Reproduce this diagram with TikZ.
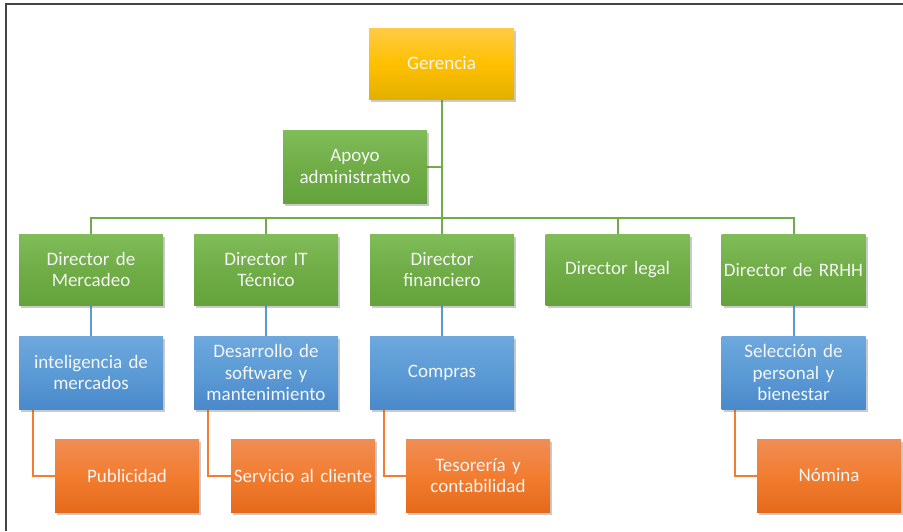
\documentclass[tikz,border=0pt]{standalone}
\usepackage{fontspec}
\setmainfont{Carlito}
\usetikzlibrary{shadows,backgrounds}
\definecolor{ygoldT}{HTML}{FFCB45}
\definecolor{ygoldM}{HTML}{FFC000}
\definecolor{ygoldB}{HTML}{E3B000}
\definecolor{grnT}{HTML}{80BC58}
\definecolor{grnM}{HTML}{70AD47}
\definecolor{grnB}{HTML}{64A33B}
\definecolor{bluT}{HTML}{6EA8DD}
\definecolor{bluM}{HTML}{5B9BD5}
\definecolor{bluB}{HTML}{4A89CA}
\definecolor{orgT}{HTML}{F08D55}
\definecolor{orgM}{HTML}{F27D30}
\definecolor{orgB}{HTML}{E46A1A}
\definecolor{framegray}{HTML}{444444}
\tikzset{
  box/.style={minimum width=144pt, inner sep=1pt, text width=142pt, align=center,
    text=white!96!black, font=\fontsize{19}{21.5}\selectfont,
    drop shadow={shadow xshift=2pt, shadow yshift=-3pt, opacity=0.35, fill=black!60}},
  ybox/.style={box, minimum width=145pt, minimum height=71pt, top color=ygoldT, bottom color=ygoldB, middle color=ygoldM},
  gbox/.style={box, minimum height=71pt, top color=grnT, bottom color=grnB, middle color=grnM},
  bbox/.style={box, minimum height=73pt, top color=bluT, bottom color=bluB, middle color=bluM},
  obox/.style={box, minimum height=73pt, top color=orgT, bottom color=orgB, middle color=orgM},
  gline/.style={draw=grnM, line width=2pt},
  bline/.style={draw=bluM, line width=2pt},
  oline/.style={draw=orgM, line width=2pt},
  framel/.style={draw=framegray, line width=2pt}
}
\begin{document}
\begin{tikzpicture}[x=1pt,y=-1pt]
\useasboundingbox (0,0) rectangle (903,531);
\draw[framel] (6,531) -- (6,4) -- (903,4);

\node[ybox] (ger) at (441.5,63.5) {Gerencia};
\node[gbox, minimum height=73pt] (apo) at (355,166.5) {Apoyo\\administrativo};

\node[gbox] (d1) at (91,269.5) {Director de\\Mercadeo};
\node[gbox] (d2) at (266,269.5) {Director IT\\Técnico};
\node[gbox] (d3) at (442,269.5) {Director\\financiero};
\node[gbox] (d4) at (617.5,269.5) {Director legal};
\node[gbox] (d5) at (793.5,269.5) {Director de RRHH};

\node[bbox] (b1) at (91,372.5) {inteligencia de\\mercados};
\node[bbox] (b2) at (266,372.5) {Desarrollo de\\software y\\mantenimiento};
\node[bbox] (b3) at (442,372.5) {Compras};
\node[bbox] (b5) at (793.5,372.5) {Selección de\\personal y\\bienestar};

\node[obox] (o1) at (127,475.5) {Publicidad};
\node[obox] (o2) at (303,475.5) {Servicio al cliente};
\node[obox] (o3) at (478,475.5) {Tesorería y\\contabilidad};
\node[obox] (o5) at (829,475.5) {Nómina};

\coordinate (bus) at (441.5,218);

\begin{scope}[on background layer]
\draw[gline] (ger.south) -- (ger.south |- bus);
\draw[gline] (apo.east) -- (apo.east -| ger.south);
\draw[gline] (d1.north) -- (d1.north |- bus) -- (d5.north |- bus) -- (d5.north);
\draw[gline] (d2.north) -- (d2.north |- bus);
\draw[gline] (d3.north) -- (d3.north |- bus);
\draw[gline] (d4.north) -- (d4.north |- bus);

\draw[bline] (d1.south) -- (b1.north);
\draw[bline] (d2.south) -- (b2.north);
\draw[bline] (d3.south) -- (b3.north);
\draw[bline] (d5.south) -- (b5.north);

\draw[oline] ([xshift=14pt]b1.south west) |- (o1.west);
\draw[oline] ([xshift=14pt]b2.south west) |- (o2.west);
\draw[oline] ([xshift=14pt]b3.south west) |- (o3.west);
\draw[oline] ([xshift=14pt]b5.south west) |- (o5.west);
\end{scope}
\end{tikzpicture}
\end{document}
